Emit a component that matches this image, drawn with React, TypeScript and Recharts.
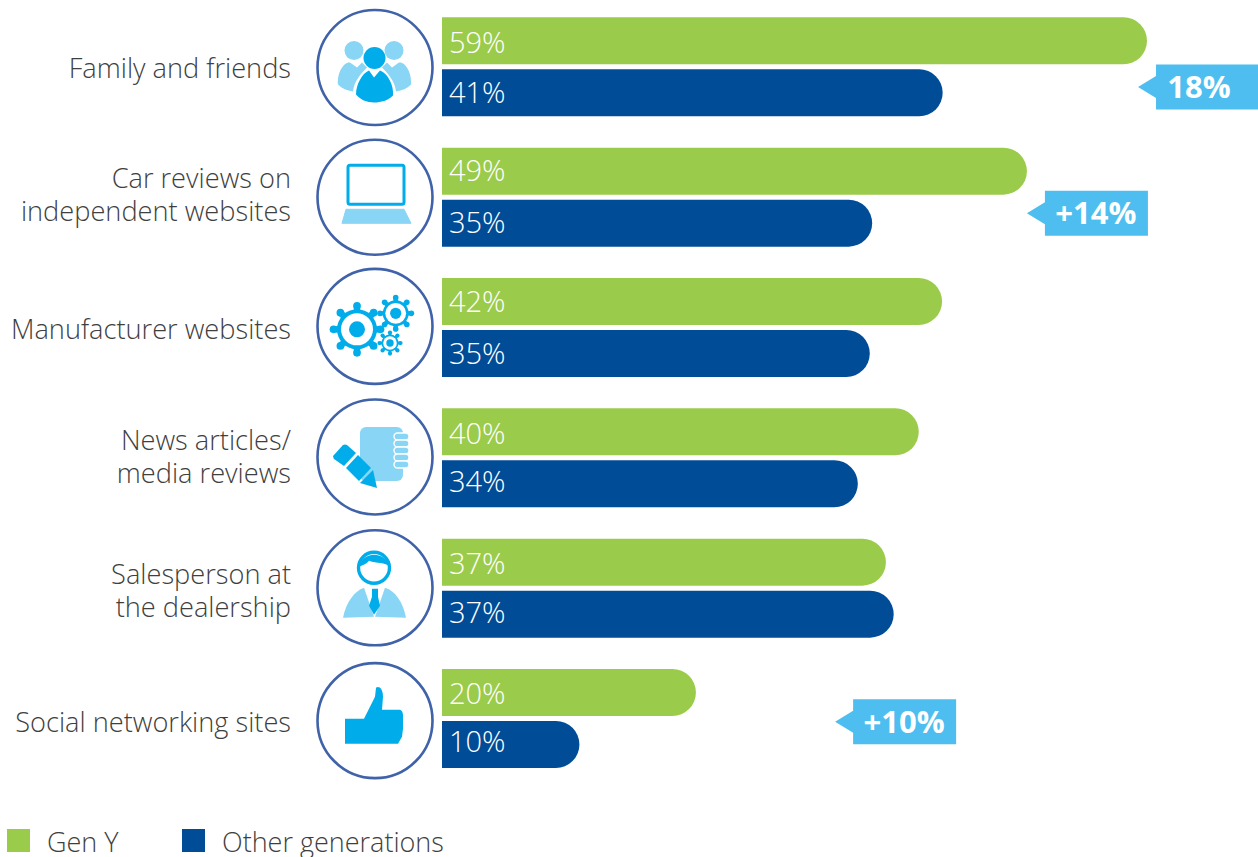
import { BarChart, Bar, XAxis, YAxis, LabelList, Legend, ReferenceDot } from 'recharts';

const categories = [
  'Family and friends',
  'Car reviews on independent websites',
  'Manufacturer websites',
  'News articles/ media reviews',
  'Salesperson at the dealership',
  'Social networking sites',
];
const categoryLines = [
  ['Family and friends'],
  ['Car reviews on', 'independent websites'],
  ['Manufacturer websites'],
  ['News articles/', 'media reviews'],
  ['Salesperson at', 'the dealership'],
  ['Social networking sites'],
];

// printed percentages
const genYPrinted = [59, 49, 42, 40, 37, 20];
const otherPrinted = [41, 35, 35, 34, 37, 10];
// the bars in the picture are not quite to scale, so lengths are read separately
const genYDrawn = [59, 48.95, 41.85, 39.9, 37.15, 21.25];
const otherDrawn = [41.9, 36, 35.8, 34.8, 37.8, 11.5];

const calloutText = ['18%', '+14%', '+10%'];
const calloutCategory = [0, 1, 5];
const calloutAt = [58.25, 48.95, 32.9];

const GREEN = '#9bcb4a';
const BLUE = '#004c97';
const SKY = '#00adea';
const PALE = '#89d5f5';
const CALLOUT = '#4dbeef';
const FONT = '"Open Sans", sans-serif';
const TEXT = '#3f3f3f';

// the artwork is hand placed, rows are a pixel or two off the grid
const tickNudge = [1, -3, 1, -1.5, 2, 3];
const circleNudge = [1, 0.5, -0.8, -0.5, 0, 2.5];
const genYNudge = [2, 0, 0, 1.5, 1.5, 1.5];
const otherNudge = [0, -0.5, 0, -2.5, -1, -2.5];
const calloutDrop = [20.5, 16.5, 3.5];
const calloutShift = [-8, 0, 0];

const data = categories.map((category, i) => ({
  category,
  genY: genYDrawn[i],
  other: otherDrawn[i],
  genYLabel: `${genYPrinted[i]}%`,
  otherLabel: `${otherPrinted[i]}%`,
}));

const Gear = ({ x, y, ring, dot, teeth, reach, tooth }: any) => (
  <g>
    {Array.from({ length: teeth }).map((_, i) => {
      const a = (i / teeth) * Math.PI * 2;
      return (
        <g key={i}>
          <line x1={x} y1={y} x2={x + Math.cos(a) * reach} y2={y + Math.sin(a) * reach} stroke={SKY} strokeWidth={tooth} />
          <circle cx={x + Math.cos(a) * reach} cy={y + Math.sin(a) * reach} r={tooth / 2 + 0.6} fill={SKY} />
        </g>
      );
    })}
    <circle cx={x} cy={y} r={ring} fill={SKY} />
    <circle cx={x} cy={y} r={ring * 0.8} fill="#fff" />
    <circle cx={x} cy={y} r={dot} fill={SKY} />
  </g>
);

const icons = [
  <g key="people">
    <circle cx={-21} cy={-17} r={9.5} fill={PALE} />
    <circle cx={19} cy={-17} r={9.5} fill={PALE} />
    <path d="M-37 17 C-38 5 -31 -6 -25 -5 L-18 0 L-13 -5 L-8 0 C-16 8 -21 15 -22 24 C-28 23 -33 21 -37 17 Z" fill={PALE} />
    <path d="M36 17 C37 5 30 -6 24 -5 L17 0 L12 -5 L7 0 C15 8 20 15 21 24 C27 23 32 21 36 17 Z" fill={PALE} />
    <circle cx={-0.5} cy={-9.5} r={11} fill={SKY} />
    <path d="M-6 3 L-1 10 L5 3 C13 6 19 18 18 28 C13 33 6 35 -1 35 C-8 35 -15 32 -19 27 C-19 17 -13 6 -6 3 Z" fill={SKY} />
  </g>,
  <g key="laptop">
    <rect x={-27} y={-32} width={56} height={39} rx={2} fill="#fff" stroke={SKY} strokeWidth={3} />
    <path d="M-29 12 L29 12 L36 26 L-33 26 Z" fill={PALE} stroke={PALE} strokeLinejoin="round" />
  </g>,
  <g key="gears">
    <Gear x={-18} y={3} ring={20} dot={8} teeth={8} reach={23.5} tooth={6.5} />
    <Gear x={20.7} y={-13} ring={13} dot={5.6} teeth={8} reach={15.7} tooth={4.4} />
    <Gear x={15} y={16.7} ring={8.5} dot={3.7} teeth={8} reach={10.5} tooth={3} />
  </g>,
  <g key="notebook">
    <rect x={-15} y={-30} width={43} height={54} rx={6} fill={PALE} />
    {[-24, -17, -10, -3, 4].map((dy) => (
      <rect key={dy} x={19} y={dy} width={15} height={7} rx={3.5} fill={PALE} stroke="#fff" strokeWidth={1.4} />
    ))}
    <path d="M-42 -1 L-32 -12 Q-30 -13 -28 -12 L-19 -4 L-31 9 L-41 2 Q-42 0 -42 -1 Z" fill={SKY} />
    <path d="M-17 -2 L-4 11 L-16 24 L-29 11 Z" fill={SKY} />
    <path d="M-2 13 L2 31 L-15 26 Z" fill={SKY} />
  </g>,
  <g key="person">
    <path d="M-32 30 C-29 14 -20 3 -11 0 L-1 29 Z" fill={PALE} />
    <path d="M31 30 C28 14 20 3 10 0 L0 29 Z" fill={PALE} />
    <path d="M-3 1 L3 1 L3 9 L5 18 L-1 27 L-6 18 L-3 9 Z" fill={SKY} />
    <circle cx={-1} cy={-20} r={15.5} fill="#fff" stroke={SKY} strokeWidth={3.4} />
    <path d="M-16 -21 C-15 -34 8 -40 15 -21 C10 -26 2 -24 -6 -27 C-8 -24 -12 -23 -16 -21 Z" fill={SKY} />
  </g>,
  <g key="thumb">
    <path
      d="M-30 -2 L-11 -2 L0 -24 L1 -33 C4 -35 8 -32 8 -24 L7 -11 L25 -11 Q28 -10 28 -5 L28 -1 L28 8 L27 16 L23 23 L-30 23 Z"
      fill={SKY}
    />
  </g>,
];

const CategoryTick = ({ x, y, payload, index }: any) => {
  const lines = categoryLines[categories.indexOf(payload.value)] ?? [payload.value];
  return (
    <g>
      <text textAnchor="end" fontFamily={FONT} fontWeight={300} fontSize={27.2} fill={TEXT}>
        {lines.map((line, i) => (
          <tspan key={line} x={x - 151} y={y + (i - (lines.length - 1) / 2) * 33 + 11 + tickNudge[index]}>
            {line}
          </tspan>
        ))}
      </text>
      <g transform={`translate(${x - 67},${y + circleNudge[index]})`}>
        <circle r={57.5} fill="#fff" stroke="#3f62a8" strokeWidth={2.6} />
        {icons[index]}
      </g>
    </g>
  );
};

const barLabel = (nudge: number[]) => ({ x, y, height, value, index }: any) => (
  <text x={x + 7} y={y + height / 2 + 10.3 + nudge[index]} fill="#fff" fontFamily={FONT} fontWeight={300} fontSize={29}>
    {value}
  </text>
);

// arrow tip sits on the anchor point, tag runs to the right
const Callout = ({ cx, cy, text, shift }: any) => (
  <g>
    <path
      d={`M${cx} ${cy} L${cx + 18} ${cy - 11} L${cx + 18} ${cy - 22.5} L${cx + 121} ${cy - 22.5} L${cx + 121} ${cy + 22.5} L${cx + 18} ${cy + 22.5} L${cx + 18} ${cy + 11} Z`}
      fill={CALLOUT}
    />
    <text x={cx + 69 + shift} y={cy + 11} textAnchor="middle" fontFamily={FONT} fontWeight={700} fontSize={31} fill="#fff">
      {text}
    </text>
  </g>
);

const LegendRow = ({ payload }: any) => (
  <div style={{ position: 'relative', height: 28, fontFamily: FONT, fontWeight: 300, fontSize: 27, color: TEXT }}>
    {(payload ?? []).map((entry: any, i: number) => (
      <div key={entry.value} style={{ position: 'absolute', left: i === 0 ? 7 : 182, top: 0, whiteSpace: 'nowrap' }}>
        <span style={{ position: 'absolute', left: 0, top: 0, width: 23, height: 23, background: entry.color }} />
        <span style={{ position: 'absolute', left: 40, top: -1, lineHeight: '28px' }}>{entry.value}</span>
      </div>
    ))}
  </div>
);

export default function App() {
  return (
    <div style={{ position: 'absolute', left: 0, top: 0, width: 1258, height: 857, overflow: 'hidden', background: '#fff' }}>
      <BarChart
        width={1258}
        height={857}
        data={data}
        layout="vertical"
        barSize={47}
        barGap={5}
        margin={{ top: 1.3, right: 111, bottom: 45.7, left: 0 }}
      >
        <XAxis type="number" domain={[0, 59]} hide />
        <YAxis
          type="category"
          dataKey="category"
          width={442}
          axisLine={false}
          tickLine={false}
          tickSize={0}
          tickMargin={0}
          interval={0}
          tick={<CategoryTick />}
        />
        <Legend
          content={<LegendRow />}
          wrapperStyle={{ position: 'absolute', left: 0, top: 829, width: 600, height: 28, bottom: 'auto' }}
        />
        <Bar dataKey="genY" name="Gen Y" fill={GREEN} radius={[0, 24, 24, 0]} isAnimationActive={false}>
          <LabelList dataKey="genYLabel" content={barLabel(genYNudge)} />
        </Bar>
        <Bar dataKey="other" name="Other generations" fill={BLUE} radius={[0, 24, 24, 0]} isAnimationActive={false}>
          <LabelList dataKey="otherLabel" content={barLabel(otherNudge)} />
        </Bar>
        {calloutText.map((text, i) => (
          <ReferenceDot
            key={text}
            x={calloutAt[i]}
            y={categories[calloutCategory[i]]}
            ifOverflow="visible"
            shape={(props: any) => <Callout cx={props.cx} cy={props.cy + calloutDrop[i]} text={text} shift={calloutShift[i]} />}
          />
        ))}
      </BarChart>
    </div>
  );
}
